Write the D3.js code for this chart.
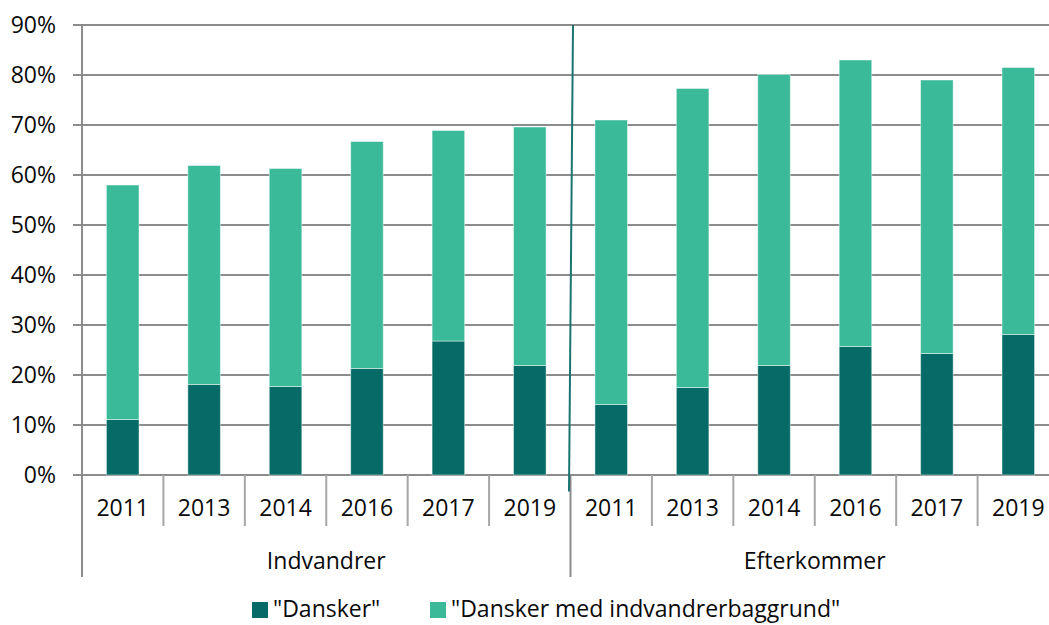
<!DOCTYPE html>
<html><head><meta charset="utf-8">
<script src="https://cdn.jsdelivr.net/npm/d3@7"></script>
<style>
html,body{margin:0;padding:0;background:#fff;}
svg{display:block;font-family:"Open Sans",sans-serif;}
</style></head>
<body><svg id="c" width="1049" height="625"></svg>
<script>
const years = ["2011","2013","2014","2016","2017","2019"];
const groups = ["Indvandrer","Efterkommer"];
const seriesNames = ['"Dansker"','"Dansker med indvandrerbaggrund"'];
const colors = ["#066b67","#3bba9a"];
// "Dansker" share per year, per group
const danskerIndvandrer = [11.1,18.1,17.7,21.3,26.8,21.9];
const danskerEfterkommer = [14.1,17.5,21.9,25.7,24.3,28.1];
// "Dansker med indvandrerbaggrund" share
const medIndvandrer = [46.9,43.8,43.6,45.4,42.1,47.7];
const medEfterkommer = [56.9,59.8,58.2,57.3,54.7,53.4];
const yTicks = [0,10,20,30,40,50,60,70,80,90];

(function(){
const rows = [];
groups.forEach((g,gi)=>{
  years.forEach((yr,yi)=>{
    const d = gi===0 ? danskerIndvandrer[yi] : danskerEfterkommer[yi];
    const m = gi===0 ? medIndvandrer[yi] : medEfterkommer[yi];
    rows.push({key:g+"-"+yr, group:g, year:yr, s0:d, s1:m});
  });
});

const FS = 23, TXT = "#0a0a0a";
const svg = d3.select("#c");
const pl = 82, pr = 1059, pt = 25, pb = 475;
const x = d3.scaleBand().domain(rows.map(r=>r.key)).range([pl,pr]).paddingInner(0.6).paddingOuter(0.3);
const y = d3.scaleLinear().domain([0,90]).range([pb,pt]);

svg.append("g").selectAll("line").data(yTicks).join("line")
  .attr("x1",pl-9).attr("x2",pr).attr("y1",d=>y(d)).attr("y2",d=>y(d))
  .attr("stroke","#8c8c8c").attr("stroke-width",2);
svg.append("g").selectAll("text").data(yTicks).join("text")
  .attr("x",56).attr("y",d=>y(d)).attr("dy","0.36em").attr("text-anchor","end")
  .attr("font-size",FS).attr("fill",TXT).text(d=>d+"%");

const stack = d3.stack().keys(["s0","s1"])(rows);
svg.append("g").selectAll("g").data(stack).join("g")
  .attr("fill",(d,i)=>colors[i])
  .selectAll("rect").data(d=>d).join("rect")
  .attr("x",d=>x(d.data.key)).attr("width",x.bandwidth())
  .attr("y",d=>y(d[1])).attr("height",d=>y(d[0])-y(d[1]))
  .attr("stroke","rgba(255,255,255,0.45)").attr("stroke-width",1);

svg.append("line").attr("x1",pl).attr("x2",pl).attr("y1",pt).attr("y2",577)
  .attr("stroke","#8c8c8c").attr("stroke-width",2);

const step = x.step();
const gap = (step-x.bandwidth())/2;
const catBounds = d3.range(1,rows.length).filter(i=>i!==6).map(i=>x(rows[i].key)-gap);
svg.append("g").selectAll("line").data(catBounds).join("line")
  .attr("x1",d=>d).attr("x2",d=>d).attr("y1",pb).attr("y2",526)
  .attr("stroke","#a6a6a6").attr("stroke-width",2);
const gBound = x(rows[6].key)-gap;
svg.append("line").attr("x1",gBound).attr("x2",gBound).attr("y1",pb).attr("y2",577)
  .attr("stroke","#8c8c8c").attr("stroke-width",2);

svg.append("g").selectAll("text").data(rows).join("text")
  .attr("x",d=>x(d.key)+x.bandwidth()/2).attr("y",508).attr("dy","0.36em")
  .attr("text-anchor","middle").attr("font-size",FS).attr("fill",TXT).text(d=>d.year);
svg.append("g").selectAll("text").data(groups).join("text")
  .attr("x",(d,i)=> i===0 ? (pl+gBound)/2 : (gBound+pr)/2).attr("y",561).attr("dy","0.36em")
  .attr("text-anchor","middle").attr("font-size",FS).attr("fill",TXT).text(d=>d);

svg.append("line").attr("x1",gBound+2.5).attr("y1",y(90)).attr("x2",gBound-1.5).attr("y2",y(-3.3))
  .attr("stroke","#1a7570").attr("stroke-width",2);

const legX = [252,430];
const leg = svg.append("g").selectAll("g").data(seriesNames).join("g")
  .attr("transform",(d,i)=>`translate(${legX[i]},602)`);
leg.append("rect").attr("width",16).attr("height",16).attr("fill",(d,i)=>colors[i]);
leg.append("text").attr("x",21).attr("y",7).attr("dy","0.36em").attr("font-size",FS).attr("fill",TXT).text(d=>d);
})();
</script></body></html>
